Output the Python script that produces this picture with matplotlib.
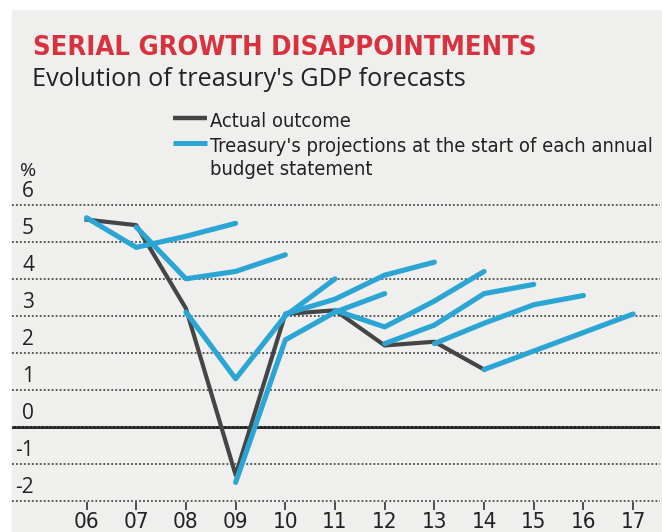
import matplotlib
matplotlib.use("Agg")
import matplotlib.pyplot as plt
import matplotlib.transforms as mtransforms
from matplotlib.lines import Line2D
from matplotlib.patches import Rectangle

# GDP growth, % - actual outcome
actual_years = [2006, 2007, 2008, 2009, 2010, 2011, 2012, 2013, 2014]
actual = [5.6, 5.45, 3.2, -1.3, 3.05, 3.15, 2.2, 2.3, 1.55]

# treasury projections, one line per budget statement (first year = starting estimate)
proj_06 = [5.65, 4.85, 5.15, 5.5]
proj_07 = [5.4, 4.0, 4.2, 4.65]
proj_08 = [3.1, 1.3, 3.0, 4.0]
proj_09 = [-1.5, 2.35, 3.1, 3.6]
proj_10 = [3.05, 3.45, 4.1, 4.45]
proj_11 = [3.15, 2.7, 3.4, 4.2]
proj_12 = [2.25, 2.75, 3.6, 3.85]
proj_13 = [2.25, 2.8, 3.3, 3.55]
proj_14 = [1.55, 2.05, 2.55, 3.05]
projections = {2006: proj_06, 2007: proj_07, 2008: proj_08, 2009: proj_09,
               2010: proj_10, 2011: proj_11, 2012: proj_12, 2013: proj_13,
               2014: proj_14}

years = list(range(2006, 2018))
year_labels = ["06", "07", "08", "09", "10", "11", "12", "13", "14", "15", "16", "17"]
y_levels = [-2, -1, 0, 1, 2, 3, 4, 5, 6]

RED = "#d9323f"
BLUE = "#2ba5d4"
GREY = "#454545"
INK = "#222222"
PAPER = "#efefed"
SANS = ["Open Sans", "DejaVu Sans"]
NARROW = dict(family="DejaVu Sans", stretch="condensed")

W, H = 662, 532


def fx(px):
    return px / W


def fy(py):
    return 1 - py / H


def fit(t, width_px):
    r = fig.canvas.get_renderer()
    w = t.get_window_extent(r).width
    t.set_fontsize(t.get_fontsize() * width_px / w)


fig = plt.figure(figsize=(W / 100, H / 100), dpi=100, facecolor="white")
fig.patches.append(Rectangle((fx(12), 0), 1 - fx(12), fy(10),
                             transform=fig.transFigure, color=PAPER, zorder=-10))

ax = fig.add_axes([fx(12), 30 / H, 648 / W, 302 / H])
ax.set_xlim(2004.5, 2017.54)
ax.set_ylim(-2.03, 6.13)
ax.patch.set_visible(False)
for s in ax.spines.values():
    s.set_visible(False)

ax.set_yticks(y_levels)
ax.tick_params(axis="y", left=False, labelleft=False)
ax.yaxis.grid(True, linestyle=(0, (1, 1.2)), linewidth=1.3, color="#4a4a4a")
ax.axhline(0, color="#111111", lw=2, zorder=1)

ax.set_xticks(years)
ax.set_xticklabels(year_labels, fontsize=16, color=INK, **NARROW)
ax.tick_params(axis="x", direction="out", length=6, width=1.2, color="#333333", pad=1)

# y labels sit just above their gridlines
lab_trans = mtransforms.offset_copy(ax.get_yaxis_transform(), fig=fig, y=3, units="dots")
for v in y_levels:
    ax.text(0.034, v, str(v), transform=lab_trans, ha="right", va="bottom",
            family=SANS, fontsize=15, color=INK)

ax.plot(actual_years, actual, color=GREY, lw=3, solid_joinstyle="round", zorder=2)
for start, vals in projections.items():
    ax.plot(range(start, start + len(vals)), vals, color=BLUE, lw=3.7,
            solid_capstyle="round", solid_joinstyle="round", zorder=3)

fig.text(fx(20), fy(176), "%", family=SANS, fontsize=14, color=INK, va="baseline")

# titles
t = fig.text(fx(33), fy(55), "SERIAL GROWTH DISAPPOINTMENTS", weight="bold",
             color=RED, fontsize=30, va="baseline", **NARROW)
fit(t, 502)
t = fig.text(fx(32), fy(86), "Evolution of treasury's GDP forecasts", family=SANS,
             color=INK, fontsize=17, va="baseline")
fit(t, 434)

# legend
fig.add_artist(Line2D([fx(173), fx(207)], [fy(118)] * 2, transform=fig.transFigure,
                      color=GREY, lw=3.2, solid_capstyle="butt"))
fig.add_artist(Line2D([fx(173), fx(207)], [fy(143)] * 2, transform=fig.transFigure,
                      color=BLUE, lw=3.6, solid_capstyle="butt"))
t = fig.text(fx(210), fy(127), "Actual outcome", fontsize=16, color=INK,
             va="baseline", **NARROW)
fit(t, 142)
t = fig.text(fx(210), fy(152), "Treasury's projections at the start of each annual",
             fontsize=16, color=INK, va="baseline", **NARROW)
fit(t, 445)
fig.text(fx(210), fy(175), "budget statement", fontsize=t.get_fontsize(),
         color=INK, va="baseline", **NARROW)

fig.savefig("out.png", dpi=100)
